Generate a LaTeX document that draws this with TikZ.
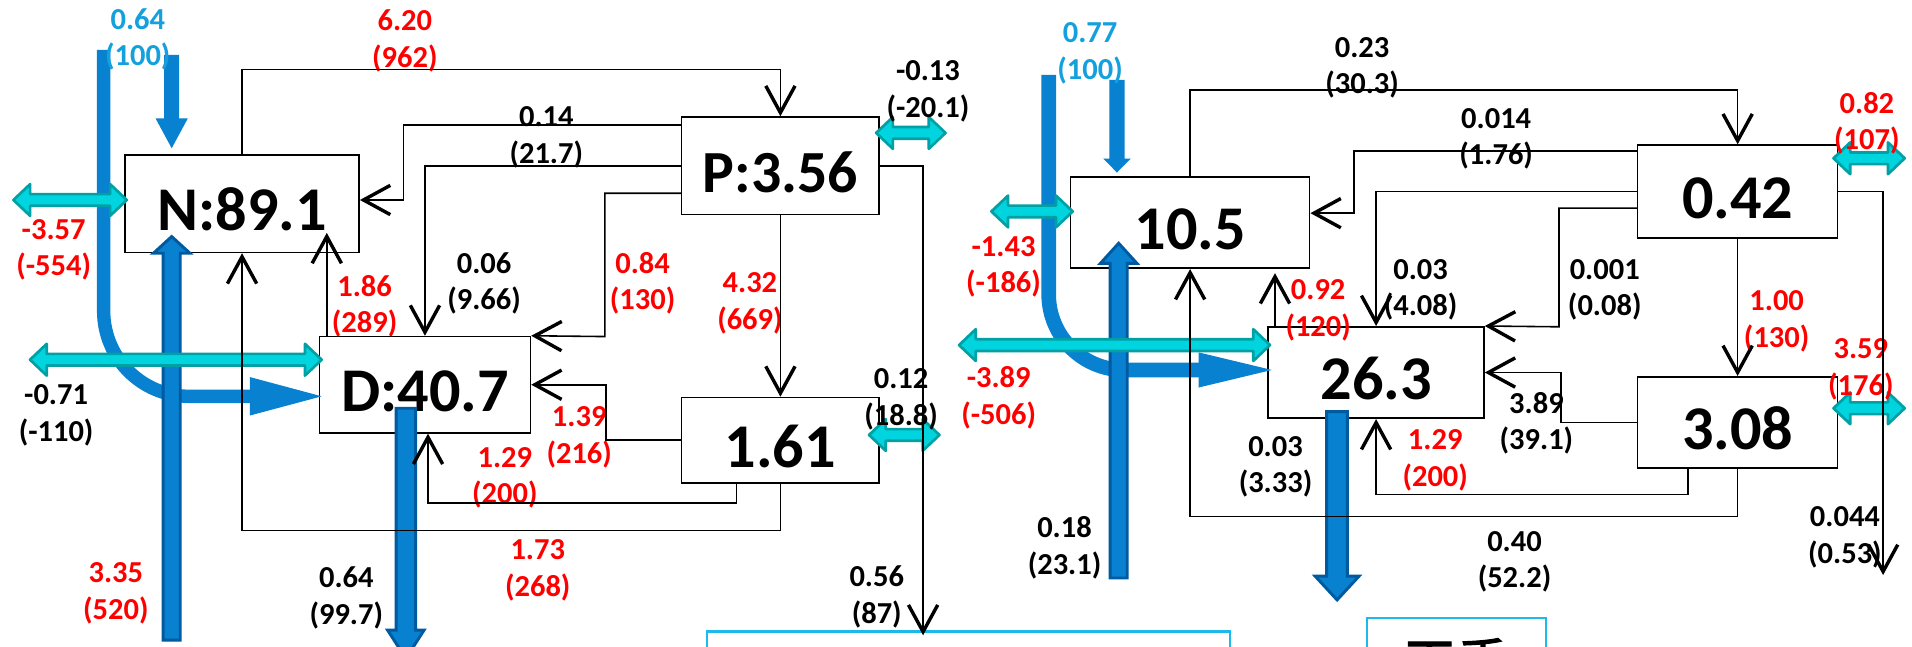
\documentclass[tikz,border=0pt]{standalone}
\usepackage{fontspec}
\setmainfont{Carlito}
\newfontfamily\cjk{Noto Sans CJK SC}[FakeBold=2]
\usetikzlibrary{arrows.meta}
\definecolor{blueL}{RGB}{8,130,208}
\definecolor{blueD}{RGB}{0,90,160}
\definecolor{cyanF}{RGB}{0,212,222}
\definecolor{cyanD}{RGB}{0,160,165}
\definecolor{cyanT}{RGB}{20,160,220}
\definecolor{skyB}{RGB}{30,185,235}
\definecolor{redT}{RGB}{255,0,0}
\newcommand\mylab[6]{%
  \node[lbl,text=#4] (#1a) at (#2,#3+8) {#5};
  \node[lbl,text=#4] (#1b) at (#2,#3+38) {#6};}
\newcommand\myvarrow[7]{%
  \filldraw[#1] (#2-#6/2,#3) -- (#2-#6/2,#4) -- (#2-#7/2,#4) -- (#2,#5) -- (#2+#7/2,#4) -- (#2+#6/2,#4) -- (#2+#6/2,#3) -- cycle;}
\newcommand\mydbl[3]{%
  \filldraw[dbl] (#1,#3) -- (#1+13.7,#3-13) -- (#1+13.7,#3-4.8) -- (#2-13.7,#3-4.8) -- (#2-13.7,#3-13) -- (#2,#3) -- (#2-13.7,#3+13) -- (#2-13.7,#3+4.8) -- (#1+13.7,#3+4.8) -- (#1+13.7,#3+13) -- cycle;}
\begin{document}
\begin{tikzpicture}[x=0.5pt,y=-0.5pt,
  box/.style={draw, line width=0.65pt, inner sep=0pt, font=\fontsize{25.5}{26}\selectfont\bfseries, text height=22pt, text depth=0pt},
  conn/.style={line width=0.65pt, -{Straight Barb[length=11pt,width=12pt,line width=1.4pt]}},
  lbl/.style={font=\fontsize{12.5}{14}\selectfont\bfseries, inner sep=0pt, anchor=base},
  dbl/.style={fill=cyanF, draw=cyanD, line width=1.1pt, line join=round},
  lightarr/.style={fill=blueL, draw=none},
  darkarr/.style={fill=blueL, draw=blueD, line width=1.2pt},
  botbox/.style={draw=skyB, line width=0.9pt, inner sep=0pt}]
\useasboundingbox (0,0) rectangle (1568,530);
\clip (0,0) rectangle (1568,530);
\fill[white] (0,0) rectangle (1568,530);

% ---- boxes
\node[box, minimum width=96pt, minimum height=40pt] (N) at (198.5,167) {N:89.1};
\node[box, minimum width=81pt, minimum height=40pt, font=\fontsize{24.5}{25}\selectfont\bfseries] (P) at (640,136) {P:3.56};
\node[box, minimum width=86.5pt, minimum height=39.5pt] (D) at (348.5,315.5) {D:40.7};
\node[box, minimum width=81pt, minimum height=35pt] (Q) at (640,361) {1.61};
\node[box, minimum width=98pt, minimum height=37.5pt] (A) at (976,182.5) {10.5};
\node[box, minimum width=82pt, minimum height=38pt] (B) at (1425,157) {0.42};
\node[box, minimum width=88.5pt, minimum height=37.5pt] (C) at (1128.5,305.5) {26.3};
\node[box, minimum width=82pt, minimum height=37.5pt] (E) at (1425,346.5) {3.08};
\node[botbox, minimum width=214.5pt, minimum height=40pt, anchor=north] (wet) at (794.5,517) {};
\node[botbox, minimum width=73.3pt, minimum height=37pt, anchor=north, font={\cjk\fontsize{22}{24}\selectfont}] (dry) at (1194.3,505.7) {干季};

\coordinate (o1) at (757,521);
\coordinate (o2) at (1544.3,471.6);
\coordinate (t1) at (268,191);
\coordinate (t2) at (1045.6,224);

% ---- thick blue arrows
\draw[blueL, line width=5.5pt, rounded corners=35pt] (85,41) -- (85,325) -- (206,325);
\fill[blueL] (205,309.25) -- (263.8,325) -- (205,340.75) -- cycle;
\draw[blueL, line width=6pt, rounded corners=31pt] (860,61.5) -- (860,303.4) -- (984,303.4);
\fill[blueL] (983,289) -- (1043,303.4) -- (983,317.8) -- cycle;
\myvarrow{lightarr}{140.8}{45}{97}{121.6}{12.3}{26.5}
\myvarrow{lightarr}{916}{65.6}{130}{141.5}{12.6}{22.6}
\myvarrow{darkarr}{140.8}{525}{207.7}{194}{14}{30}
\myvarrow{darkarr}{917.4}{474}{216}{199.5}{14}{30}
\myvarrow{darkarr}{332.8}{334.8}{516.7}{540}{16}{30}
\myvarrow{darkarr}{1096.5}{337.6}{472.5}{492}{17}{36}

% ---- cyan double arrows
\mydbl{11}{104}{164}
\mydbl{24.6}{263.8}{295}
\mydbl{718.5}{775.4}{109}
\mydbl{712.7}{770.4}{356.7}
\mydbl{813}{879.7}{173.4}
\mydbl{786.5}{1041.5}{283}
\mydbl{1503.6}{1562}{129.8}
\mydbl{1503.6}{1562}{334.8}

% ---- labels
\mylab{L1}{113}{16}{cyanT}{0.64}{(100)}
\mylab{L2}{332}{17}{redT}{6.20}{(962)}
\mylab{L3}{761}{58}{black}{-0.13}{(-20.1)}
\mylab{L4}{448}{96}{black}{0.14}{(21.7)}
\mylab{L5}{44}{188}{redT}{-3.57}{(-554)}
\mylab{L6}{397}{216}{black}{0.06}{(9.66)}
\mylab{L7}{527}{216}{redT}{0.84}{(130)}
\mylab{L8}{615}{232}{redT}{4.32}{(669)}
\mylab{L9}{299}{235}{redT}{1.86}{(289)}
\mylab{L10}{46}{324}{black}{-0.71}{(-110)}
\mylab{L11}{739}{311}{black}{0.12}{(18.8)}
\mylab{L12}{475}{342}{redT}{1.39}{(216)}
\mylab{L13}{414}{375}{redT}{1.29}{(200)}
\mylab{L14}{441}{451}{redT}{1.73}{(268)}
\mylab{L15}{95}{470}{redT}{3.35}{(520)}
\mylab{L16}{284}{474}{black}{0.64}{(99.7)}
\mylab{L17}{719}{473}{black}{0.56}{(87)}
\mylab{R1}{894}{27}{cyanT}{0.77}{(100)}
\mylab{R2}{1117}{39}{black}{0.23}{(30.3)}
\mylab{R3}{1227}{97}{black}{0.014}{(1.76)}
\mylab{R4}{1531}{85}{redT}{0.82}{(107)}
\mylab{R5}{823}{202}{redT}{-1.43}{(-186)}
\mylab{R6}{1165}{221}{black}{0.03}{(4.08)}
\mylab{R7}{1316}{221}{black}{0.001}{(0.08)}
\mylab{R8}{1081}{238}{redT}{0.92}{(120)}
\mylab{R9}{1457}{247}{redT}{1.00}{(130)}
\mylab{R10}{819}{310}{redT}{-3.89}{(-506)}
\mylab{R11}{1526}{286}{redT}{3.59}{(176)}
\mylab{R12}{1260}{331}{black}{3.89}{(39.1)}
\mylab{R13}{1177}{361}{redT}{1.29}{(200)}
\mylab{R14}{1046}{366}{black}{0.03}{(3.33)}
\mylab{R15}{873}{433}{black}{0.18}{(23.1)}
\mylab{R16}{1242}{444}{black}{0.40}{(52.2)}
\mylab{R17}{1513}{424}{black}{0.044}{(0.53)}

% ---- thin connectors, left
\draw[conn] (N.north) |- (640,57) -- (P.north);
\draw[conn] (P.west |- 0,102.5) -| (331,164) -- (N.east |- 0,164);
\draw[conn] (P.west) -| (D.north);
\draw[conn] (P.west |- 0,158.5) -| (496,276) -- (D.north east);
\draw[conn] (P.south) -- (Q.north);
\draw[conn] (P.east) -| (o1);
\draw[conn] (Q.west) -| (497,315.5) -- (D.east);
\draw[conn] (Q.south -| 604,0) |- (351,412.6) -- (D.south -| 351,0);
\draw[conn] (Q.south) |- (198.5,435) -- (N.south);
\draw[conn] (D.north -| 268,0) -- (t1);
% ---- thin connectors, right
\draw[conn] (A.north) |- (1425,73.8) -- (B.north);
\draw[conn] (B.west |- 0,123.8) -| (1110.6,174.8) -- (A.east |- 0,174.8);
\draw[conn] (B.west) -| (C.north);
\draw[conn] (B.west |- 0,170.7) -| (1278.5,268) -- (C.north east);
\draw[conn] (B.south) -- (E.north);
\draw[conn] (B.east) -| (o2);
\draw[conn] (E.west) -| (1280,305.5) -- (C.east);
\draw[conn] (E.south -| 1384.3,0) |- (1128.5,405.5) -- (C.south);
\draw[conn] (E.south) |- (976,423.6) -- (A.south);
\draw[conn] (C.north -| 1045.6,0) -- (t2);
\end{tikzpicture}
\end{document}
